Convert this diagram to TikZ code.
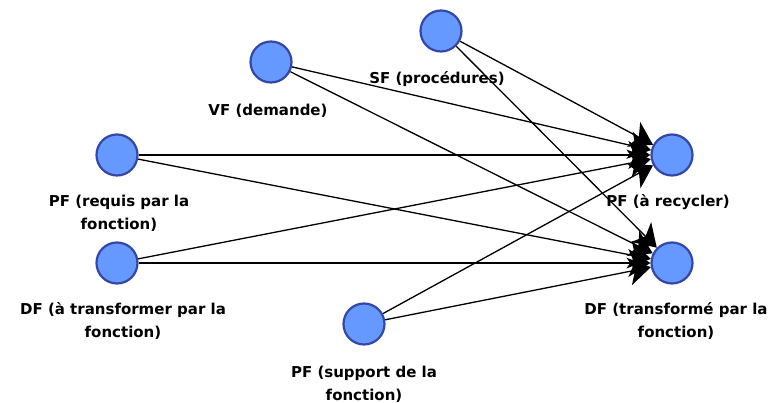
\documentclass[tikz,border=0pt]{standalone}
\usepackage{fontspec}
\setmainfont{DejaVu Sans}
\usetikzlibrary{arrows.meta}
\definecolor{circfill}{RGB}{102,153,255}
\definecolor{circdraw}{RGB}{52,70,168}
\tikzset{
  place/.style={circle, minimum size=41pt, inner sep=0pt, fill=circfill, draw=circdraw, line width=2.2pt},
  lbl/.style={font=\fontsize{15}{23}\selectfont\bfseries, align=center, inner sep=0pt},
  conn/.style={line width=1.3pt, -{Stealth[length=22pt, width=28pt, inset=6pt]}, shorten >=0pt}
}
\begin{document}
\begin{tikzpicture}[x=1pt,y=1pt]
\useasboundingbox (0,0) rectangle (771,403);
\node[place] (vf) at (271,341) {};
\node[place] (sf) at (441,372) {};
\node[place] (pfr) at (117,248) {};
\node[place] (dft) at (117,140) {};
\node[place] (pfs) at (364,79) {};
\node[place] (pfa) at (672,248) {};
\node[place] (dfo) at (672,140) {};

\node[lbl] (vfl) at (268,292) {VF (demande)};
\node[lbl] (sfl) at (437,324) {SF (procédures)};
\node[lbl] (pfrl) at (119,190) {PF (requis par la\\fonction)};
\node[lbl] (dftl) at (123,82) {DF (à transformer par la\\fonction)};
\node[lbl] (pfsl) at (364,19) {PF (support de la\\fonction)};
\node[lbl] (pfal) at (668,201) {PF (à recycler)};
\node[lbl] (dfol) at (676,82) {DF (transformé par la\\fonction)};

\foreach \s in {pfr,dft,vf,sf,pfs} {
  \draw[conn] (\s) -- (pfa);
  \draw[conn] (\s) -- (dfo);
}
\end{tikzpicture}
\end{document}
